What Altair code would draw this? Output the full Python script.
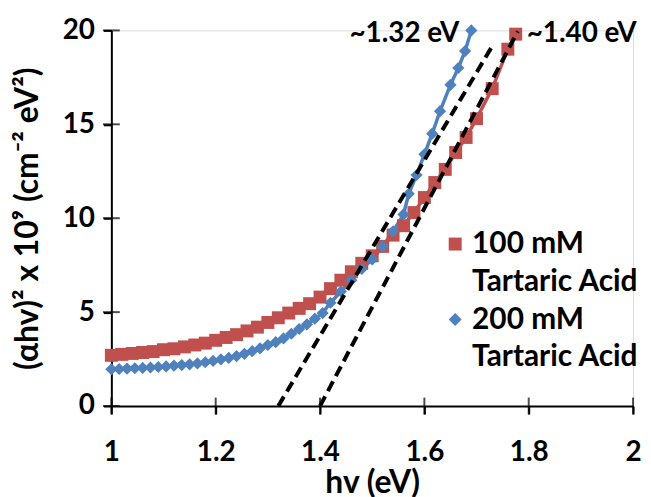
import altair as alt
import pandas as pd

# ---- data ----
hv_100 = [1.00, 1.02, 1.04, 1.06, 1.08, 1.10, 1.12, 1.14, 1.16, 1.18, 1.20, 1.22, 1.24, 1.26,
          1.28, 1.30, 1.32, 1.34, 1.36, 1.38, 1.40, 1.42, 1.44, 1.46, 1.48, 1.50, 1.52, 1.54,
          1.56, 1.58, 1.60, 1.62, 1.64, 1.66, 1.68, 1.70, 1.73, 1.76, 1.775]
ahv_100 = [2.70, 2.75, 2.80, 2.85, 2.90, 3.00, 3.05, 3.15, 3.25, 3.35, 3.50, 3.65, 3.80, 4.00,
           4.20, 4.45, 4.70, 4.95, 5.20, 5.45, 5.80, 6.25, 6.70, 7.15, 7.60, 8.00, 8.50, 9.10,
           9.60, 10.3, 11.1, 11.9, 12.6, 13.5, 14.3, 15.3, 16.9, 19.0, 19.8]

hv_200 = [1.00, 1.015, 1.03, 1.045, 1.06, 1.075, 1.09, 1.105, 1.12, 1.135, 1.15, 1.165, 1.18,
          1.195, 1.21, 1.225, 1.24, 1.255, 1.27, 1.285, 1.30, 1.315, 1.33, 1.345, 1.36, 1.375,
          1.39, 1.405, 1.42, 1.44, 1.46, 1.48, 1.50, 1.52, 1.54,
          1.56, 1.57, 1.585, 1.60, 1.615, 1.63, 1.65, 1.665, 1.678, 1.69]
ahv_200 = [1.96, 1.97, 1.99, 2.01, 2.03, 2.05, 2.08, 2.11, 2.15, 2.18, 2.22, 2.27, 2.33,
           2.40, 2.48, 2.56, 2.66, 2.78, 2.92, 3.07, 3.25, 3.40, 3.60, 3.85, 4.10, 4.35,
           4.65, 4.95, 5.50, 6.10, 6.70, 7.30, 7.80, 8.50, 9.30,
           10.2, 11.3, 12.3, 13.4, 14.5, 15.7, 17.1, 18.0, 18.9, 20.0]

series_names = ["100 mM|Tartaric Acid", "200 mM|Tartaric Acid"]
series_colors = ["#C0504D", "#4F81BD"]
series_shapes = ["square", "diamond"]

fit_names = ["1.32", "1.40"]
fit_x0 = [1.32, 1.40]
fit_y0 = [0.0, 0.0]
fit_x1 = [1.733, 1.779]
fit_y1 = [19.3, 19.95]

ann_text = ["~1.32 eV", "~1.40 eV"]
ann_x = [1.667, 1.796]
ann_y = [19.8, 19.8]
ann_align = ["right", "left"]

x_ticks = [1.0, 1.2, 1.4, 1.6, 1.8, 2.0]
y_ticks = [0, 5, 10, 15, 20]
x_min, y_min = 1.0, 0.0

FONT = "Lato"
FS = 28

# ---- tables ----
rows = []
for x, y in zip(hv_100, ahv_100):
    rows.append({"hv": x, "val": y, "series": series_names[0]})
for x, y in zip(hv_200, ahv_200):
    rows.append({"hv": x, "val": y, "series": series_names[1]})
df = pd.DataFrame(rows)

fit_rows = []
for n, a, b, c, d in zip(fit_names, fit_x0, fit_y0, fit_x1, fit_y1):
    fit_rows.append({"fit": n, "hv": a, "val": b})
    fit_rows.append({"fit": n, "hv": c, "val": d})
fit_df = pd.DataFrame(fit_rows)

ann_df = pd.DataFrame({"text": ann_text, "hv": ann_x, "val": ann_y, "align": ann_align})

xt_df = pd.DataFrame({"hv": x_ticks, "val": [y_min] * len(x_ticks)})
yt_df = pd.DataFrame({"hv": [x_min] * len(y_ticks), "val": y_ticks})

xscale = alt.Scale(domain=[1, 2], nice=False)
yscale = alt.Scale(domain=[0, 20], nice=False)
cscale = alt.Scale(domain=series_names, range=series_colors)
sscale = alt.Scale(domain=series_names, range=series_shapes)

x_axis = alt.Axis(values=x_ticks, format=".1~f", title="hv (eV)", grid=False,
                  domainColor="black", domainWidth=2, tickColor="black", tickWidth=2, tickSize=8,
                  labelFont=FONT, labelFontSize=FS, labelFontWeight="bold", labelColor="black",
                  labelPadding=25, labelFlush=False,
                  titleFont=FONT, titleFontSize=32, titleFontWeight="bold", titleColor="black",
                  titleY=77, titleBaseline="middle")
y_axis = alt.Axis(values=y_ticks, title="(αhv)² x 10⁹ (cm⁻² eV²)", grid=False,
                  domainColor="black", domainWidth=2, tickColor="black", tickWidth=2, tickSize=8,
                  labelFont=FONT, labelFontSize=FS, labelFontWeight="bold", labelColor="black",
                  labelPadding=9, labelFlush=False,
                  titleFont=FONT, titleFontSize=32, titleFontWeight="bold", titleColor="black",
                  titleX=-84, titleY=189, titleAngle=-90, titleAlign="center", titleBaseline="middle")

legend = alt.Legend(title=None, orient="none", legendX=331, legendY=200,
                    labelExpr="split(datum.label, '|')",
                    labelFont=FONT, labelFontSize=30, labelFontWeight="bold",
                    labelColor="black", symbolSize=170, symbolStrokeWidth=0,
                    rowPadding=8, labelOffset=2, labelLimit=300)

X = alt.X("hv:Q", scale=xscale, axis=x_axis)
Y = alt.Y("val:Q", scale=yscale, axis=y_axis)

base = alt.Chart(df)

lines = base.mark_line(strokeWidth=3.5).encode(
    x=X, y=Y,
    color=alt.Color("series:N", scale=cscale, legend=legend),
    detail="series:N",
)

points = base.mark_point(filled=True, opacity=1).encode(
    x=X, y=Y,
    color=alt.Color("series:N", scale=cscale, legend=legend),
    shape=alt.Shape("series:N", scale=sscale, legend=legend),
    size=alt.condition(alt.datum.series == series_names[0], alt.value(170), alt.value(150)),
)

fits = alt.Chart(fit_df).mark_line(color="black", strokeWidth=4, strokeDash=[11, 6]).encode(
    x=X, y=Y, detail="fit:N",
)

ann_r = alt.Chart(ann_df).transform_filter(alt.datum.align == "right").mark_text(
    align="right", baseline="middle", font=FONT, fontSize=FS, fontWeight="bold", color="black"
).encode(x=X, y=Y, text="text:N")
ann_l = alt.Chart(ann_df).transform_filter(alt.datum.align == "left").mark_text(
    align="left", baseline="middle", font=FONT, fontSize=FS, fontWeight="bold", color="black"
).encode(x=X, y=Y, text="text:N")

# cross ticks on both axes (Excel "cross" tick style)
xticks_mark = alt.Chart(xt_df).mark_tick(orient="vertical", color="black", size=17, thickness=2).encode(
    x=X, y=Y,
)
yticks_mark = alt.Chart(yt_df).mark_tick(orient="horizontal", color="black", size=17, thickness=2).encode(
    x=X, y=Y,
)

chart = alt.layer(lines, points, fits, ann_r, ann_l, xticks_mark, yticks_mark).properties(
    width=525, height=378,
    autosize=alt.AutoSizeParams(type="none"),
    padding={"left": 104, "top": 21, "right": 10, "bottom": 90},
).configure_view(stroke=None).configure(
    background="white", style={"guide-label": {"lineHeight": 38}}
)

chart.save("out.html", embed_options={"renderer": "svg", "actions": False})
